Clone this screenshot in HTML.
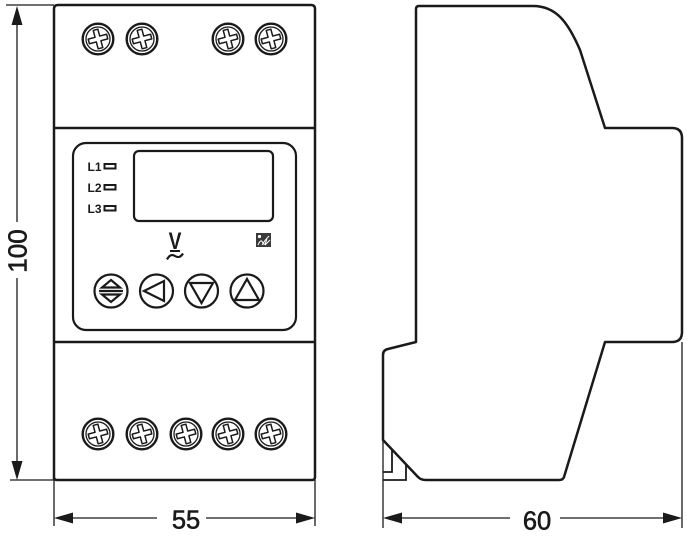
<!DOCTYPE html>
<html><head><meta charset="utf-8"><style>
html,body{margin:0;padding:0;background:#fff;}
svg{display:block;}
text{font-family:"Liberation Sans",sans-serif;fill:#1a1a1a;}
</style></head><body>
<svg width="687" height="539" viewBox="0 0 687 539" xmlns="http://www.w3.org/2000/svg">
<defs>
<g id="screw">
<circle cx="0" cy="0" r="15.3" fill="#fff" stroke="#1a1a1a" stroke-width="2.4"/>
<circle cx="0" cy="0" r="12" fill="none" stroke="#1a1a1a" stroke-width="1.3"/>
<path transform="rotate(-15)" d="M-2.4,-9.5 L2.4,-9.5 L2.4,-2.4 L9.5,-2.4 L9.5,2.4 L2.4,2.4 L2.4,9.5 L-2.4,9.5 L-2.4,2.4 L-9.5,2.4 L-9.5,-2.4 L-2.4,-2.4 Z" fill="#fff" stroke="#1a1a1a" stroke-width="1.5" stroke-linejoin="round"/>
</g>
</defs>

<!-- ===== FRONT VIEW ===== -->
<path d="M54,480 L54,9 Q54,5 58,5 L311,5 Q315,5 315,9 L315,477 Q315,480 312,480 L57,480 Q54,480 54,477 Z" fill="#fff" stroke="#1a1a1a" stroke-width="2.5"/>
<line x1="54" y1="128" x2="315" y2="128" stroke="#1a1a1a" stroke-width="2.5"/>
<line x1="54" y1="342" x2="315" y2="342" stroke="#1a1a1a" stroke-width="2.5"/>

<!-- top screws -->
<use href="#screw" x="98" y="39"/>
<use href="#screw" x="142" y="39"/>
<use href="#screw" x="228" y="39"/>
<use href="#screw" x="271" y="39"/>
<!-- bottom screws -->
<use href="#screw" x="98" y="434"/>
<use href="#screw" x="142" y="434"/>
<use href="#screw" x="186" y="434"/>
<use href="#screw" x="228" y="434"/>
<use href="#screw" x="271" y="434"/>

<!-- panel -->
<rect x="73" y="143" width="223" height="187" rx="13" ry="13" fill="#fff" stroke="#1a1a1a" stroke-width="2.2"/>
<rect x="134" y="151" width="139" height="70" rx="5" ry="5" fill="#fff" stroke="#1a1a1a" stroke-width="2.2"/>

<!-- LEDs -->
<text x="87.5" y="171" font-size="12" font-weight="bold">L1</text>
<rect x="104.5" y="164" width="11" height="4.5" fill="#fff" stroke="#1a1a1a" stroke-width="2"/>
<text x="87.5" y="192" font-size="12" font-weight="bold">L2</text>
<rect x="104.5" y="185" width="11" height="4.5" fill="#fff" stroke="#1a1a1a" stroke-width="2"/>
<text x="87.5" y="213" font-size="12" font-weight="bold">L3</text>
<rect x="104.5" y="206" width="11" height="4.5" fill="#fff" stroke="#1a1a1a" stroke-width="2"/>

<!-- V symbol -->
<text x="175" y="249" font-size="24" font-weight="bold" text-anchor="middle" transform="translate(175,0) scale(0.8,1) translate(-175,0)">V</text>
<line x1="170" y1="251" x2="180" y2="251" stroke="#1a1a1a" stroke-width="2"/>
<path d="M167,259.5 Q170.5,253 175,256 Q179.5,259 183,253.5" fill="none" stroke="#1a1a1a" stroke-width="2.2"/>

<!-- icon -->
<rect x="256" y="233" width="15" height="14" fill="#3a3a3a"/>
<circle cx="259.5" cy="236.5" r="1.6" fill="#fff"/>
<path d="M258,245 Q261,238 263,243 Q265,247 267,238 M262,245 Q265,240 269,236 M265,245 L270,240" fill="none" stroke="#fff" stroke-width="1"/>

<!-- buttons -->
<g fill="none" stroke="#1a1a1a" stroke-width="2.2" stroke-linejoin="miter">
<circle cx="111" cy="291" r="16.5"/>
<path d="M111,280 L120,287.5 L102,287.5 Z"/>
<line x1="99" y1="291" x2="123" y2="291"/>
<path d="M102,294.5 L120,294.5 L111,302 Z"/>

<circle cx="156.5" cy="291" r="16.5"/>
<path d="M144,291 L164,281 L164,301 Z"/>

<circle cx="201.5" cy="291" r="16.5"/>
<path d="M190,283 L213,283 L201.5,303 Z"/>

<circle cx="247" cy="291" r="16.5"/>
<path d="M247,279 L259,300 L235,300 Z"/>
</g>

<!-- vertical dimension 100 -->
<g stroke="#1a1a1a" stroke-width="1.3">
<line x1="6" y1="5" x2="54" y2="5"/>
<line x1="10" y1="480" x2="54" y2="480"/>
<line x1="17" y1="24" x2="17" y2="222"/>
<line x1="17" y1="278" x2="17" y2="463"/>
</g>
<path d="M17,6 L22.5,25 L11.5,25 Z" fill="#1a1a1a"/>
<path d="M17,480 L22.5,461 L11.5,461 Z" fill="#1a1a1a"/>
<text x="0" y="0" font-size="26" text-anchor="middle" stroke="#1a1a1a" stroke-width="0.6" transform="translate(26.5,251) rotate(-90)">100</text>

<!-- horizontal dimension 55 -->
<g stroke="#1a1a1a" stroke-width="1.3">
<line x1="54" y1="480" x2="54" y2="526"/>
<line x1="315" y1="480" x2="315" y2="526"/>
<line x1="72" y1="518" x2="157" y2="518"/>
<line x1="206" y1="518" x2="297" y2="518"/>
</g>
<path d="M54,518 L73,512.5 L73,523.5 Z" fill="#1a1a1a"/>
<path d="M315,518 L296,512.5 L296,523.5 Z" fill="#1a1a1a"/>
<text x="186" y="528.5" font-size="25.5" text-anchor="middle" stroke="#1a1a1a" stroke-width="0.6">55</text>

<!-- ===== SIDE VIEW ===== -->
<path d="M416,342 L416,9 Q416,6 419,6 L533,6 C556,6 568,22 580,50 L605,128 L672,128 Q682,128 682,138 L682,332 Q682,342 672,342 L605,342 L564,477 Q563,480 559,480 L426,480 Q421,480 418,477 L383,440 L383,355 Q383,350 388,349 L416,342 Z" fill="#fff" stroke="#1a1a1a" stroke-width="2.5" stroke-linejoin="round"/>
<!-- DIN clip -->
<g fill="none" stroke="#1a1a1a" stroke-width="1.8">
<path d="M392,450 L392,472 L383,472"/>
<path d="M406,465 L406,480 L383,480"/>
</g>

<!-- dimension 60 -->
<g stroke="#1a1a1a" stroke-width="1.3">
<line x1="383" y1="440" x2="383" y2="528"/>
<line x1="682" y1="342" x2="682" y2="528"/>
<line x1="402" y1="518" x2="510" y2="518"/>
<line x1="560" y1="518" x2="664" y2="518"/>
</g>
<path d="M383,518 L402,512.5 L402,523.5 Z" fill="#1a1a1a"/>
<path d="M682,518 L663,512.5 L663,523.5 Z" fill="#1a1a1a"/>
<text x="537" y="529.5" font-size="25.5" text-anchor="middle" stroke="#1a1a1a" stroke-width="0.6">60</text>
</svg>
</body></html>
